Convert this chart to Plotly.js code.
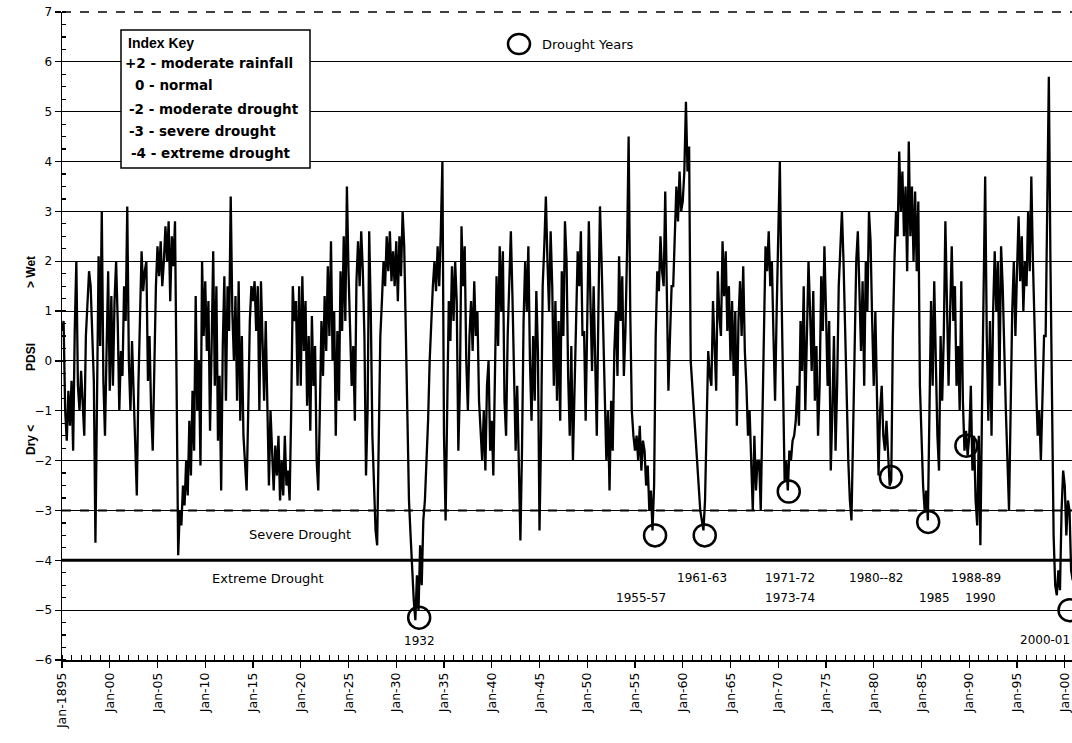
<!DOCTYPE html>
<html><head><meta charset="utf-8">
<script src="https://cdn.plot.ly/plotly-3.0.1.min.js"></script>
<style>html,body{margin:0;padding:0;background:#fff}#chart{width:1072px;height:743px}</style>
</head><body><div id="chart"></div>
<script>
// ---- DATA ----
const startYear = 1895;
const stepsPerYear = 6; // bi-monthly readings
const pdsi = [
 0.6, 0.8, -1.0, -1.6, -0.6, -1.3,   // 1895
 -0.4, -1.8, 0.6, 2.0, -0.5, -1.0,   // 1896
 -0.2, -0.8, -1.5, 0.5, 1.2, 1.8,    // 1897
 1.5, 0.5, -0.4, -3.65, -0.5, 2.1,   // 1898
 0.3, 3.0, -0.4, -1.5, 0.2, 1.8,     // 1899
 -0.6, 1.3, -0.5, 1.2, 2.0, 0.8,     // 1900
 -1.0, 0.2, -0.3, 1.5, 0.8, 3.1,     // 1901
 0.0, -1.0, 0.4, -0.8, -1.5, -2.7,   // 1902
 -0.5, 1.1, 2.2, 1.4, 1.8, 2.0,      // 1903
 -0.4, 0.5, -1.0, -1.8, 0.3, 1.5,    // 1904
 2.3, 1.7, 2.4, 1.5, 2.0, 2.7,       // 1905
 2.0, 2.8, 1.2, 2.5, 1.9, 2.8,       // 1906
 -0.5, -3.9, -3.0, -3.3, -2.5, -2.9, // 1907
 -2.0, -2.7, -1.2, -2.3, -0.6, -1.8, // 1908
 1.3, -1.0, 0.0, -2.1, 2.0, 0.5,     // 1909
 1.6, 0.2, 1.2, -1.4, 0.3, 2.2,      // 1910
 -0.5, 1.5, -1.6, -0.3, -2.6, 0.3,   // 1911
 1.7, -0.8, 1.5, 0.6, 3.3, 1.0,      // 1912
 0.0, 1.3, -0.8, 1.6, -1.2, 0.5,     // 1913
 -1.5, -2.0, -2.6, -1.0, 0.8, 1.5,   // 1914
 1.2, 1.6, 0.6, 1.5, -1.0, 1.6,      // 1915
 0.3, -0.8, 0.8, -1.2, -2.5, -1.0,   // 1916
 -2.0, -2.6, -1.7, -2.3, -1.5, -2.8, // 1917
 -2.0, -2.7, -1.5, -2.5, -2.2, -2.8, // 1918
 -1.0, 1.5, 0.8, 1.2, -0.5, 1.5,     // 1919
 -0.5, 1.7, 0.2, 1.2, -0.9, 0.5,     // 1920
 -1.4, 0.9, -0.5, 0.3, -2.0, -2.6,   // 1921
 -1.0, 0.8, -0.3, 1.3, 0.2, 1.9,     // 1922
 0.5, 2.4, 0.0, 1.0, -1.5, 0.6,      // 1923
 -0.8, 1.8, 0.6, 2.5, 0.8, 3.5,      // 1924
 1.8, 0.5, -0.5, 0.3, -1.2, 1.6,     // 1925
 2.4, 1.5, 2.6, 1.8, 0.5, -2.3,      // 1926
 -1.0, 2.6, 1.0, -1.5, -2.5, -3.4,   // 1927
 -3.7, -2.0, 0.5, 1.2, 2.0, 1.5,     // 1928
 2.5, 1.8, 2.6, 1.6, 2.2, 1.5,       // 1929
 2.4, 1.2, 2.5, 1.7, 3.0, 2.3,       // 1930
 0.5, -1.5, -2.8, -3.5, -4.2, -4.8,  // 1931
 -5.2, -4.3, -5.0, -3.7, -4.5, -3.2, // 1932
 -2.8, -2.0, -1.2, 0.0, 0.8, 1.5,    // 1933
 2.0, 1.4, 2.3, 1.5, 2.6, 4.0,       // 1934
 -1.5, -3.2, -1.0, 1.2, 0.4, 1.9,    // 1935
 0.8, 2.0, 1.2, -1.8, -0.5, 2.7,     // 1936
 1.5, 2.3, 0.0, -1.0, 0.5, 1.2,      // 1937
 0.2, 1.6, 0.5, 1.0, -0.8, -1.3,     // 1938
 -2.0, -1.0, -2.2, -0.5, 0.0, -1.8,  // 1939
 -1.2, -2.3, -0.2, 1.7, 0.3, 2.3,    // 1940
 1.0, 2.2, -0.8, -1.5, 0.5, 1.5,     // 1941
 2.6, 1.3, 0.0, -1.8, -0.5, -2.0,    // 1942
 -3.6, -1.8, 0.8, 2.0, 1.0, 2.3,     // 1943
 0.0, -1.2, 0.5, -0.8, 1.4, 0.2,     // 1944
 -3.4, -1.5, 1.5, 2.3, 3.3, 2.0,     // 1945
 1.0, 2.6, 1.5, -0.5, 1.2, -0.8,     // 1946
 0.8, -1.2, 1.8, 0.5, 2.8, 2.0,      // 1947
 -0.3, -1.5, 0.3, -2.0, -0.5, 1.0,   // 1948
 2.2, 1.5, 2.6, 0.5, 0.6, -1.2,      // 1949
 0.8, 2.8, 1.2, -0.2, 1.5, 0.0,      // 1950
 -1.5, 1.0, 3.1, 2.0, 0.5, -0.8,     // 1951
 -2.0, -1.0, -2.6, -0.8, -1.8, 0.2,  // 1952
 1.0, -0.3, 2.1, 0.8, 1.7, -0.3,     // 1953
 0.6, 2.2, 4.5, 1.0, -1.0, -1.5,     // 1954
 -1.8, -1.5, -2.0, -1.3, -2.2, -1.6, // 1955
 -1.8, -2.5, -2.1, -3.0, -2.6, -3.4, // 1956
 -2.5, 0.5, 1.8, 1.4, 2.5, 1.8,      // 1957
 1.5, 3.4, 0.8, -0.6, 0.5, 1.5,      // 1958
 1.5, 2.8, 3.5, 2.8, 3.8, 3.0,       // 1959
 3.2, 3.8, 5.2, 3.8, 4.3, 0.0,       // 1960
 -0.5, -1.0, -1.6, -2.0, -2.5, -3.0, // 1961
 -3.2, -3.4, -2.8, -1.0, 0.2, -0.3,  // 1962
 -0.5, 1.2, 0.3, -0.6, 1.8, 0.9,     // 1963
 0.5, 2.4, 1.3, 2.2, 0.6, 1.5,       // 1964
 0.0, 1.2, -0.3, 1.0, -1.3, 0.8,     // 1965
 1.6, 0.5, 1.9, 0.2, -0.5, -1.5,     // 1966
 -1.0, -2.3, -3.0, -1.5, -2.6, -2.0, // 1967
 -2.0, -3.0, -1.0, 1.2, 2.3, 1.8,    // 1968
 2.6, 1.5, 2.0, 0.5, -0.8, 1.0,      // 1969
 2.5, 4.0, 1.5, -0.5, -2.4, -2.0,    // 1970
 -2.6, -1.8, -2.0, -1.6, -1.5, -1.2, // 1971
 -0.5, -1.3, 0.8, -0.2, 1.5, -1.0,   // 1972
 0.5, 2.0, 1.0, -0.2, 1.4, -0.8,     // 1973
 0.3, -1.5, -0.5, 1.7, 0.6, 2.3,     // 1974
 1.0, -0.5, 0.8, -2.2, -1.0, 0.5,    // 1975
 -1.8, -0.5, 1.5, 2.2, 3.0, 2.0,     // 1976
 0.5, -1.0, -2.0, -2.8, -3.2, -1.5,  // 1977
 0.5, 2.0, 2.6, 1.5, 0.2, 1.6,       // 1978
 -0.5, 2.0, 1.0, 3.0, 2.4, 0.8,      // 1979
 -0.5, 1.0, -1.0, -2.3, -1.0, -0.5,  // 1980
 -1.5, -1.8, -1.2, -2.0, -2.5, -2.4, // 1981
 0.5, 2.0, 3.0, 2.5, 4.2, 3.0,       // 1982
 3.8, 2.5, 3.5, 1.8, 4.4, 2.5,       // 1983
 3.5, 2.0, 3.4, 1.8, 3.2, -0.5,      // 1984
 -1.5, -2.5, -3.0, -2.6, -3.2, -0.5, // 1985
 1.2, -0.5, 1.6, 0.0, -1.5, -2.2,    // 1986
 0.5, -0.8, 0.5, 2.8, 1.0, -0.5,     // 1987
 1.0, 2.3, 0.8, 1.5, -0.5, 0.3,      // 1988
 -1.0, 1.6, -0.8, -1.8, -1.4, -1.9,  // 1989
 -1.5, -0.5, -2.2, -1.5, -2.8, -3.3, // 1990
 -1.5, -3.7, -1.0, 1.0, 3.7, 0.5,    // 1991
 -1.2, 0.8, -1.5, 1.0, 2.2, 1.0,     // 1992
 2.0, -0.5, 2.3, 1.5, 0.0, -1.0,     // 1993
 -2.0, -3.0, -1.0, 1.0, 2.0, 0.5,    // 1994
 1.8, 2.9, 1.6, 2.5, 1.0, 2.0,       // 1995
 1.5, 3.0, 1.8, 3.7, 2.0, 0.5,       // 1996
 -0.5, -1.5, -1.0, -2.0, -0.5, 0.5,  // 1997
 0.5, 3.5, 5.7, 2.0, -1.5, -3.5,     // 1998
 -4.5, -4.7, -4.2, -4.6, -3.0, -2.2, // 1999
 -2.5, -3.5, -2.8, -3.0, -4.2, -4.4  // 2000
];
const tickYears = [1895,1900,1905,1910,1915,1920,1925,1930,1935,1940,1945,1950,1955,1960,1965,1970,1975,1980,1985,1990,1995,2000];
const tickLabels = ['Jan-1895','Jan-00','Jan-05','Jan-10','Jan-15','Jan-20','Jan-25','Jan-30','Jan-35','Jan-40','Jan-45','Jan-50','Jan-55','Jan-60','Jan-65','Jan-70','Jan-75','Jan-80','Jan-85','Jan-90','Jan-95','Jan-00'];
const droughtYears = [1932.4, 1957.1, 1962.3, 1971.1, 1981.8, 1985.7, 1989.7, 2000.5];
const droughtPdsi  = [-5.15, -3.5, -3.5, -2.62, -2.33, -3.23, -1.7, -5.0];
const droughtLabels = ['1932','1955-57','1961-63','1971-72','1973-74','1980--82','1985','1988-89','1990','2000-01'];
const keyTitle = 'Index Key';
const keyLines = ['+2 - moderate rainfall','0 - normal','-2 - moderate drought','-3 - severe drought','-4 - extreme drought'];
const severeLevel = -3, extremeLevel = -4;

// ---- PLOT ----
const years = pdsi.map((_, i) => startYear + i / stepsPerYear);
const F = 'DejaVu Sans, Verdana, sans-serif';
const FB = 'Liberation Sans, Arial, sans-serif';
const L = 62, R = 1072, T = 12, B = 660;
const px = x => (x - L) / (R - L);
const py = y => (B - y) / (B - T);

const traces = [
  {x: years, y: pdsi, type: 'scatter', mode: 'lines', line: {color: '#000', width: 2.3}, hoverinfo: 'skip'},
  {x: droughtYears, y: droughtPdsi, type: 'scatter', mode: 'markers', cliponaxis: false,
   marker: {symbol: 'circle-open', size: 22, color: '#000', line: {width: 2.5, color: '#000'}}}
];

const note = (x, y, text, size, xanchor, extra, fam) => Object.assign({xref:'paper', yref:'paper', x: px(x), y: py(y),
  text, showarrow:false, xanchor: xanchor || 'center', yanchor:'middle', font:{family: fam || F, size, color:'#000'}}, extra || {});

const labelPos = [[419,641],[641,598],[702,578],[790,578],[790,598],[876,578],[934,598],[976,578],[980,598],[1045,640]];
const ann = droughtLabels.map((t, i) => note(labelPos[i][0], labelPos[i][1], t, 12));
ann.push(note(300, 534, 'Severe Drought', 13));
ann.push(note(268, 578, 'Extreme Drought', 13));
ann.push(note(540, 44, 'Drought Years', 13, 'left'));
// index key
ann.push(note(126, 43, '<b>'+keyTitle+'</b>', 14, 'left', null, FB));
const keyY = [63, 85, 109, 131, 153];
const keyX = [123, 133, 127, 127, 129];
keyLines.forEach((t, i) => ann.push(note(keyX[i], keyY[i], '<b>'+t+'</b>', 13.5, 'left')));
// y title pieces
[['<b>Dry &lt;</b>',440],['<b>PDSI</b>',357],['<b>&gt; Wet</b>',272]].forEach(p =>
  ann.push(note(31, p[1], p[0], 12, 'center', {textangle:-90}, FB)));

const shapes = [
  {type:'line', xref:'paper', yref:'y', x0:0, x1:1, y0:severeLevel, y1:severeLevel, line:{color:'#000', width:2, dash:'dash'}, layer:'below'},
  {type:'line', xref:'paper', yref:'y', x0:0, x1:1, y0:extremeLevel, y1:extremeLevel, line:{color:'#000', width:3}, layer:'below'},
  {type:'line', xref:'paper', yref:'paper', x0:0, x1:1, y0:1, y1:1, line:{color:'#000', width:1.5, dash:'dash'}, layer:'above'},
  {type:'rect', xref:'paper', yref:'paper', x0:px(121), x1:px(310), y0:py(168), y1:py(30), fillcolor:'#fff', line:{color:'#000', width:1.5}, layer:'above'},
  {type:'circle', xref:'paper', yref:'paper', x0:px(508), x1:px(530), y0:py(54), y1:py(34), line:{color:'#000', width:2.5}, layer:'above'}
];

const layout = {
  width:1072, height:743, margin:{l:L, r:0, t:T, b:743-B},
  paper_bgcolor:'#fff', plot_bgcolor:'#fff', showlegend:false,
  font:{family:F, color:'#000'},
  xaxis:{range:[1895, 1895 + (R-L)/9.55], tickmode:'array', tickvals:tickYears, ticktext:tickLabels, tickangle:-90,
    ticks:'outside', ticklen:6, tickwidth:1.2, tickcolor:'#000', showline:true, linecolor:'#000', linewidth:1.5,
    showgrid:false, zeroline:false, tickfont:{family:F, size:12.5, color:'#000'},
    minor:{tick0:1895, dtick:1, ticks:'inside', ticklen:5, tickcolor:'#000', tickwidth:1, showgrid:false}},
  yaxis:{range:[-6,7], tick0:0, dtick:1, ticks:'outside', ticklen:6, tickwidth:1.2, tickcolor:'#000',
    showline:true, linecolor:'#000', linewidth:1.5, showgrid:true, gridcolor:'#000', gridwidth:1, zeroline:false,
    tickfont:{family:F, size:12, color:'#000'},
    minor:{dtick:0.25, ticks:'inside', ticklen:4, tickcolor:'#000', showgrid:false}},
  shapes:shapes, annotations:ann
};
Plotly.newPlot('chart', traces, layout, {staticPlot:true, displayModeBar:false});
</script></body></html>
